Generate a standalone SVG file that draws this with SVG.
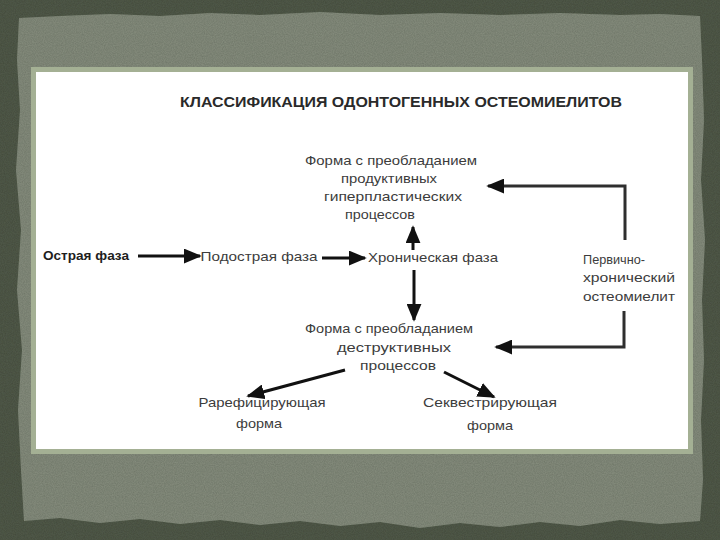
<svg xmlns="http://www.w3.org/2000/svg" width="720" height="540" viewBox="0 0 720 540">
  <defs>
    <style>
      .lbl { font-family: "Liberation Sans", Arial, sans-serif; font-size: 13px; fill: #3c3c3c; text-anchor: middle; }
      .bold { font-weight: bold; fill: #1e1e1e; }
      .title { font-family: "Liberation Sans", Arial, sans-serif; font-size: 14px; font-weight: bold; fill: #2a2a2a; }
      .conn { stroke: #111; stroke-width: 3; fill: none; }
      .loop { stroke: #2e2e2e; stroke-width: 3; fill: none; }
    </style>
    <marker id="ah" viewBox="0 0 10 10" refX="9" refY="5" markerWidth="6" markerHeight="5" orient="auto" markerUnits="strokeWidth" preserveAspectRatio="none">
      <path d="M0,0 L10,5 L0,10 z" fill="#111"/>
    </marker>
    <filter id="grain" x="0" y="0" width="100%" height="100%">
      <feTurbulence type="fractalNoise" baseFrequency="0.9" numOctaves="2" seed="3" result="n"/>
      <feColorMatrix type="matrix" values="0 0 0 0 0  0 0 0 0 0  0 0 0 0 0  0 0 0 0.35 0" in="n" result="a"/>
      <feComposite in="a" in2="SourceGraphic" operator="in" result="b"/>
      <feMerge><feMergeNode in="SourceGraphic"/><feMergeNode in="b"/></feMerge>
    </filter>
  </defs>

  <!-- background -->
  <rect x="0" y="0" width="720" height="540" fill="#525c4b" filter="url(#grain)"/>
  <path d="M19,18 L60,16 L110,14 L160,16 L210,13 L260,15 L320,12 L380,15 L440,13 L500,15 L560,13 L620,15 L660,14 L700,16 L702,60 L704,120 L701,180 L705,240 L702,300 L704,360 L701,420 L703,480 L700,521 L660,524 L620,520 L580,526 L540,522 L500,527 L460,523 L420,528 L380,522 L340,526 L300,521 L260,525 L220,520 L180,524 L140,519 L100,523 L60,518 L24,521 L21,470 L18,410 L22,350 L17,290 L21,230 L16,170 L20,110 L17,60 Z" fill="#878f7f" filter="url(#grain)"/>

  <!-- panel -->
  <rect x="31" y="67" width="662" height="387" fill="#a4b094"/>
  <rect x="36" y="72" width="652" height="377" fill="#ffffff"/>

  <text class="title" x="180" y="107" textLength="442" lengthAdjust="spacingAndGlyphs">КЛАССИФИКАЦИЯ ОДОНТОГЕННЫХ ОСТЕОМИЕЛИТОВ</text>

  <g id="connectors">
    <line class="conn" x1="138" y1="256" x2="200" y2="256" marker-end="url(#ah)"/>
    <line class="conn" x1="322" y1="258" x2="365" y2="258" marker-end="url(#ah)"/>
    <line class="conn" x1="413" y1="250" x2="413" y2="227" marker-end="url(#ah)"/>
    <line class="conn" x1="414" y1="270" x2="414" y2="320" marker-end="url(#ah)"/>
    <line class="conn" x1="345" y1="370" x2="248" y2="396" marker-end="url(#ah)"/>
    <line class="conn" x1="444" y1="372" x2="494" y2="397" marker-end="url(#ah)"/>
    <polyline class="loop" points="625,240 625,186 488,186" marker-end="url(#ah)"/>
    <polyline class="loop" points="624,311 624,347 496,347" marker-end="url(#ah)"/>
  </g>

  <g id="node-productive">
    <text class="lbl" x="391" y="165" textLength="172" lengthAdjust="spacingAndGlyphs">Форма с преобладанием</text>
    <text class="lbl" x="389" y="183" textLength="96" lengthAdjust="spacingAndGlyphs">продуктивных</text>
    <text class="lbl" x="393" y="201" textLength="138" lengthAdjust="spacingAndGlyphs">гиперпластических</text>
    <text class="lbl" x="380" y="219" textLength="70" lengthAdjust="spacingAndGlyphs">процессов</text>
  </g>

  <g id="node-acute">
    <text class="lbl bold" x="86" y="260" textLength="86" lengthAdjust="spacingAndGlyphs">Острая фаза</text>
  </g>
  <g id="node-subacute">
    <text class="lbl" x="259" y="261" textLength="117" lengthAdjust="spacingAndGlyphs">Подострая фаза</text>
  </g>
  <g id="node-chronic">
    <text class="lbl" x="433" y="262" textLength="130" lengthAdjust="spacingAndGlyphs">Хроническая фаза</text>
  </g>

  <g id="node-primary">
    <text class="lbl" x="614" y="264" textLength="62" lengthAdjust="spacingAndGlyphs">Первично-</text>
    <text class="lbl" x="629" y="282" textLength="92" lengthAdjust="spacingAndGlyphs">хронический</text>
    <text class="lbl" x="629" y="301" textLength="92" lengthAdjust="spacingAndGlyphs">остеомиелит</text>
  </g>

  <g id="node-destructive">
    <text class="lbl" x="389" y="333" textLength="168" lengthAdjust="spacingAndGlyphs">Форма с преобладанием</text>
    <text class="lbl" x="394" y="352" textLength="114" lengthAdjust="spacingAndGlyphs">деструктивных</text>
    <text class="lbl" x="398" y="370" textLength="76" lengthAdjust="spacingAndGlyphs">процессов</text>
  </g>

  <g id="node-rarefying">
    <text class="lbl" x="262" y="407" textLength="127" lengthAdjust="spacingAndGlyphs">Рарефицирующая</text>
    <text class="lbl" x="259" y="428" textLength="46" lengthAdjust="spacingAndGlyphs">форма</text>
  </g>

  <g id="node-sequestrating">
    <text class="lbl" x="490" y="407" textLength="134" lengthAdjust="spacingAndGlyphs">Секвестрирующая</text>
    <text class="lbl" x="490" y="430" textLength="46" lengthAdjust="spacingAndGlyphs">форма</text>
  </g>
</svg>
